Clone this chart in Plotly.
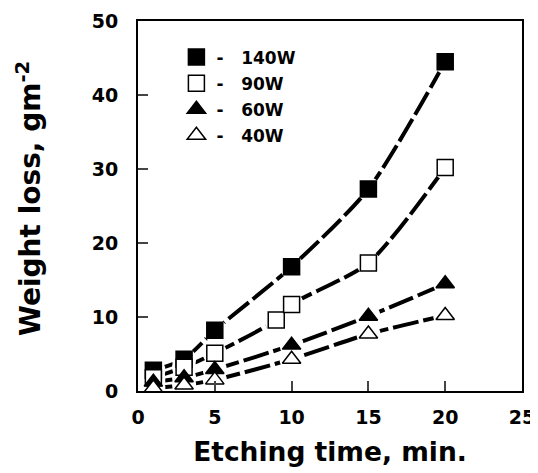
import plotly.graph_objects as go

# Data
x_140 = [1, 3, 5, 10, 15, 20]
y_140 = [2.8, 4.3, 8.2, 16.8, 27.3, 44.5]
x_90 = [1, 3, 5, 9, 10, 15, 20]
y_90 = [1.8, 3.2, 5.1, 9.6, 11.7, 17.3, 30.2]
x_60 = [1, 3, 5, 10, 15, 20]
y_60 = [1.2, 1.8, 2.9, 6.2, 10.1, 14.5]
x_40 = [1, 3, 5, 10, 15, 20]
y_40 = [0.4, 0.8, 1.5, 4.3, 7.7, 10.2]

series = [
    ("140W", x_140, y_140, "square", "black"),
    ("90W", x_90, y_90, "square", "white"),
    ("60W", x_60, y_60, "triangle-up", "black"),
    ("40W", x_40, y_40, "triangle-up", "white"),
]

x_ticks = [0, 5, 10, 15, 20, 25]
y_ticks = [0, 10, 20, 30, 40, 50]

FONT = "DejaVu Sans, Liberation Sans, Arial, sans-serif"
NB = "\u00a0"

fig = go.Figure()
# fitted curves
for name, xs, ys, sym, fill in series:
    fig.add_trace(go.Scatter(
        x=xs, y=ys, mode="lines", showlegend=False, hoverinfo="skip",
        line=dict(color="black", width=4, dash="26px,5px", shape="spline", smoothing=0.7)))
# white halos to make gaps around the markers
for name, xs, ys, sym, fill in series:
    fig.add_trace(go.Scatter(
        x=xs, y=ys, mode="markers", showlegend=False, hoverinfo="skip",
        marker=dict(symbol="circle", size=24, color="white", line=dict(width=0))))
# markers
for name, xs, ys, sym, fill in series:
    fig.add_trace(go.Scatter(
        x=xs, y=ys, mode="markers", name="-" + NB * 3 + name, legendgroup=name,
        marker=dict(symbol=sym, size=16, color=fill,
                    line=dict(color="black", width=1.5))))

# page body adds an 8px offset, so the figure is 8px smaller than the window
fig.update_layout(
    width=530, height=465,
    margin=dict(l=130, r=16, t=13, b=82, autoexpand=False),
    paper_bgcolor="white", plot_bgcolor="white",
    font=dict(family=FONT, color="black"),
    showlegend=True,
    legend=dict(x=0.10, y=0.95, xanchor="left", yanchor="top",
                bgcolor="rgba(0,0,0,0)", tracegroupgap=1,
                font=dict(size=17, family=FONT, weight="bold"),
                itemwidth=30),
    xaxis=dict(range=[0, 25], tickvals=x_ticks, ticks="inside", ticklen=10, tickwidth=2,
               showline=True, linewidth=2, linecolor="black", mirror=True,
               showgrid=False, zeroline=False, ticklabelstandoff=8, automargin=False,
               tickfont=dict(size=19, weight="bold"),
               title=dict(text="Etching time, min.", font=dict(size=26.5, weight="bold"), standoff=16)),
    yaxis=dict(range=[0, 50], tickvals=y_ticks, ticks="inside", ticklen=10, tickwidth=2,
               showline=True, linewidth=2, linecolor="black", mirror=True,
               showgrid=False, zeroline=False, ticklabelstandoff=14, automargin=False,
               tickfont=dict(size=19, weight="bold")),
    annotations=[dict(text="Weight loss, gm<sup>-2</sup>", textangle=-90,
                      xref="paper", yref="paper", x=-0.283, y=0.52,
                      xanchor="center", yanchor="middle", showarrow=False,
                      font=dict(size=28, weight="bold"))],
)
fig.write_html("out.html")
